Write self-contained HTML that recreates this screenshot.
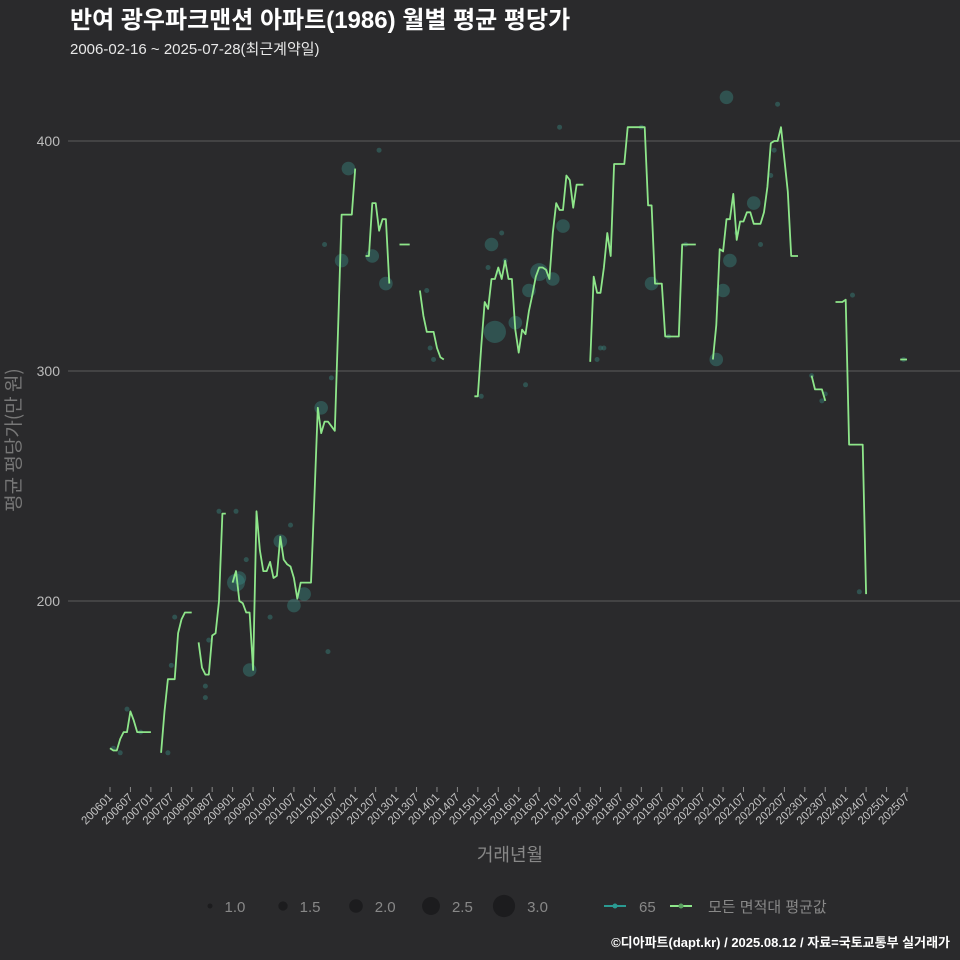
<!DOCTYPE html>
<html><head><meta charset="utf-8">
<style>
body{margin:0;background:#2a2a2c;}
svg{display:block;font-family:"Liberation Sans","Noto Sans CJK KR",sans-serif;}
</style></head>
<body>
<svg id="chart" width="960" height="960" viewBox="0 0 960 960">
<rect width="960" height="960" fill="#2a2a2c"/>
<text x="70" y="28" fill="#ffffff" font-size="24" font-weight="bold">반여 광우파크맨션 아파트(1986) 월별 평균 평당가</text>
<text x="70" y="54" fill="#e8e8e8" font-size="15">2006-02-16 ~ 2025-07-28(최근계약일)</text>
<g id="grid"></g>
<g id="yaxis"></g>
<g transform="translate(20 440) rotate(-90)">
<text x="0" y="0" fill="#777" font-size="19" text-anchor="middle" style="font-family:'Noto Sans CJK KR',sans-serif">평균 평당가(만 원)</text>
</g>
<g id="xaxis"></g>
<text x="510" y="861" fill="#888" font-size="18" text-anchor="middle">거래년월</text>
<g id="bubbles"></g>
<g id="line"></g>
<g id="legend"></g>
<text x="950" y="947" fill="#ffffff" font-size="13" font-weight="bold" text-anchor="end">©디아파트(dapt.kr) / 2025.08.12 / 자료=국토교통부 실거래가</text>
</svg>
<script>
const yTicks = [200, 300, 400];
const lineStart = "200601";
const lineValues = [
136,135,135,140,143,143,152,148,143,143,143,143,143,
null,null,
134,152,166,166,166,186,192,195,195,195,
null,
182,171,168,168,185,186,200,238,238,
null,
208,213,200,199,195,195,170,239,222,213,213,217,210,211,228,218,216,215,210,201,208,208,208,208,245,284,273,278,278,276,274,320,368,368,368,368,388,
null,null,
350,350,373,373,361,366,366,338,
null,null,
355,355,355,355,
null,null,
335,324,317,317,317,310,306,305,
null,null,null,null,null,null,null,null,
289,289,311,330,327,340,340,345,340,348,340,340,318,308,318,316,326,333,341,345,345,344,340,360,373,370,370,385,383,371,381,381,381,
null,304,341,334,334,345,360,350,390,390,390,390,406,406,406,406,406,406,372,372,338,338,338,315,315,315,315,315,355,355,355,355,355,
null,null,null,null,
305,320,353,352,366,366,377,357,365,365,369,369,364,364,364,369,380,399,400,400,406,392,378,350,350,350,
null,null,null,
298,292,292,292,287,
null,null,
330,330,330,331,268,268,268,268,268,203,
null,null,null,null,null,null,null,null,null,
305,305,305
];
const bubbleMonths = ["200602","200604","200606","200610","200706","200707","200708","200805","200805","200806","200809","200902","200903","200902","200905","200906","200912","201003","201006","201007","201010","201103","201104","201105","201106","201109","201111","201206","201208","201210","201310","201311","201312","201502","201504","201505","201506","201507","201508","201509","201512","201603","201604","201607","201611","201701","201702","201712","201801","201802","201901","201904","201909","202002","202011","202101","202102","202103","202105","202110","202112","202203","202204","202205","202303","202306","202307","202403","202405","202506"];
const bubbleValues = [136,134,153,143,134,172,193,158,163,183,239,239,210,208,218,170,193,226,233,198,203,284,355,178,297,348,388,350,396,338,335,310,305,289,345,355,317,343,360,348,321,294,335,343,340,406,363,305,310,310,406,338,315,355,305,335,419,348,360,373,355,385,396,416,298,287,290,333,204,305];
const bubbleCounts = [1,1,1,1,1,1,1,1,1,1,1,1,2,2.5,1,2,1,2,1,2,2,2,1,1,1,2,2,2,1,2,1,1,1,1,1,2,3,1,1,1,2,1,2,2.5,2,1,2,1,1,1,1,2,1,1,2,2,2,2,1,2,1,1,1,1,1,1,1,1,1,1];
const xTickLabels = [];
for (let y = 2006; y <= 2025; y++) { xTickLabels.push(y + "01"); xTickLabels.push(y + "07"); }
const legendSizes = [1.0, 1.5, 2.0, 2.5, 3.0];

const NS = "http://www.w3.org/2000/svg";
function mk(tag, attrs, parent) { const e = document.createElementNS(NS, tag); for (const k in attrs) e.setAttribute(k, attrs[k]); parent.appendChild(e); return e; }
function monthIdx(s) { return (parseInt(s.slice(0,4)) - 2006) * 12 + parseInt(s.slice(4,6)) - 1; }
const x0 = 110, pxPerMonth = 3.406;
function xScale(m) { return x0 + pxPerMonth * m; }
function yScale(v) { return 371 - (v - 300) * 2.3; }
function rScale(c) { return 2.5 + (c - 1) * 4.3; }

const grid = document.getElementById('grid'), yax = document.getElementById('yaxis');
yTicks.forEach(t => {
  const l = mk('line', {x1: 68, x2: 960, y1: yScale(t), y2: yScale(t), stroke: '#5c5c5c', 'stroke-width': 1}, grid);
  
  
  const tx = mk('text', {x: 60, y: yScale(t) + 5, fill: '#bbbbbb', 'font-size': 14, 'text-anchor': 'end'}, yax);
  tx.textContent = t;
  
  
});

const xax = document.getElementById('xaxis');
xTickLabels.forEach(lab => {
  const x = xScale(monthIdx(lab));
  const tk = mk('line', {x1: x, x2: x, y1: 787, y2: 792, stroke: '#888', 'stroke-width': 1}, xax);
  
  
  const tx = mk('text', {x: x + 3, y: 798, fill: '#c4c4c4', 'font-size': 11.5, 'text-anchor': 'end', transform: 'rotate(-45 ' + (x + 3) + ' 798)'}, xax);
  tx.textContent = lab;
  
  
});

const bub = document.getElementById('bubbles');
bubbleMonths.forEach((m, i) => {
  const c = mk('circle', {cx: xScale(monthIdx(m)), cy: yScale(bubbleValues[i]), r: rScale(bubbleCounts[i]), fill: '#3a8a84', 'fill-opacity': 0.42}, bub);
  
  
});

const lg = document.getElementById('line');
const start = monthIdx(lineStart);
let seg = [];
function flush() {
  if (seg.length) {
    const p = mk('polyline', {points: seg.join(' '), fill: 'none', stroke: '#8ee68a', 'stroke-width': 1.8, 'stroke-linejoin': 'round'}, lg);
    
    
  }
  seg = [];
}
lineValues.forEach((v, i) => {
  if (v === null) { flush(); return; }
  seg.push(xScale(start + i).toFixed(1) + ',' + yScale(v).toFixed(1));
});
flush();

const leg = document.getElementById('legend');
const legX = [210, 283, 356, 431, 504];
legendSizes.forEach((s, i) => {
  const c = mk('circle', {cx: legX[i], cy: 906, r: rScale(s), fill: '#1c1c1e'}, leg);
  
  
  const t = mk('text', {x: legX[i] + rScale(s) + 12, y: 912, fill: '#888', 'font-size': 15}, leg);
  t.textContent = s.toFixed(1);
  
  
});
const l1 = mk('line', {x1: 604, x2: 626, y1: 906, y2: 906, stroke: '#2a9a92', 'stroke-width': 2}, leg);


const d1 = mk('circle', {cx: 615, cy: 906, r: 2.5, fill: '#2a9a92'}, leg);


const t1 = mk('text', {x: 639, y: 912, fill: '#888', 'font-size': 15}, leg);
t1.textContent = '65';


const l2 = mk('line', {x1: 670, x2: 692, y1: 906, y2: 906, stroke: '#8ee68a', 'stroke-width': 2}, leg);


const d2 = mk('circle', {cx: 681, cy: 906, r: 2.5, fill: '#5aa060'}, leg);


const t2 = mk('text', {x: 708, y: 912, fill: '#888', 'font-size': 15}, leg);
t2.textContent = '모든 면적대 평균값';


</script>
</body></html>
